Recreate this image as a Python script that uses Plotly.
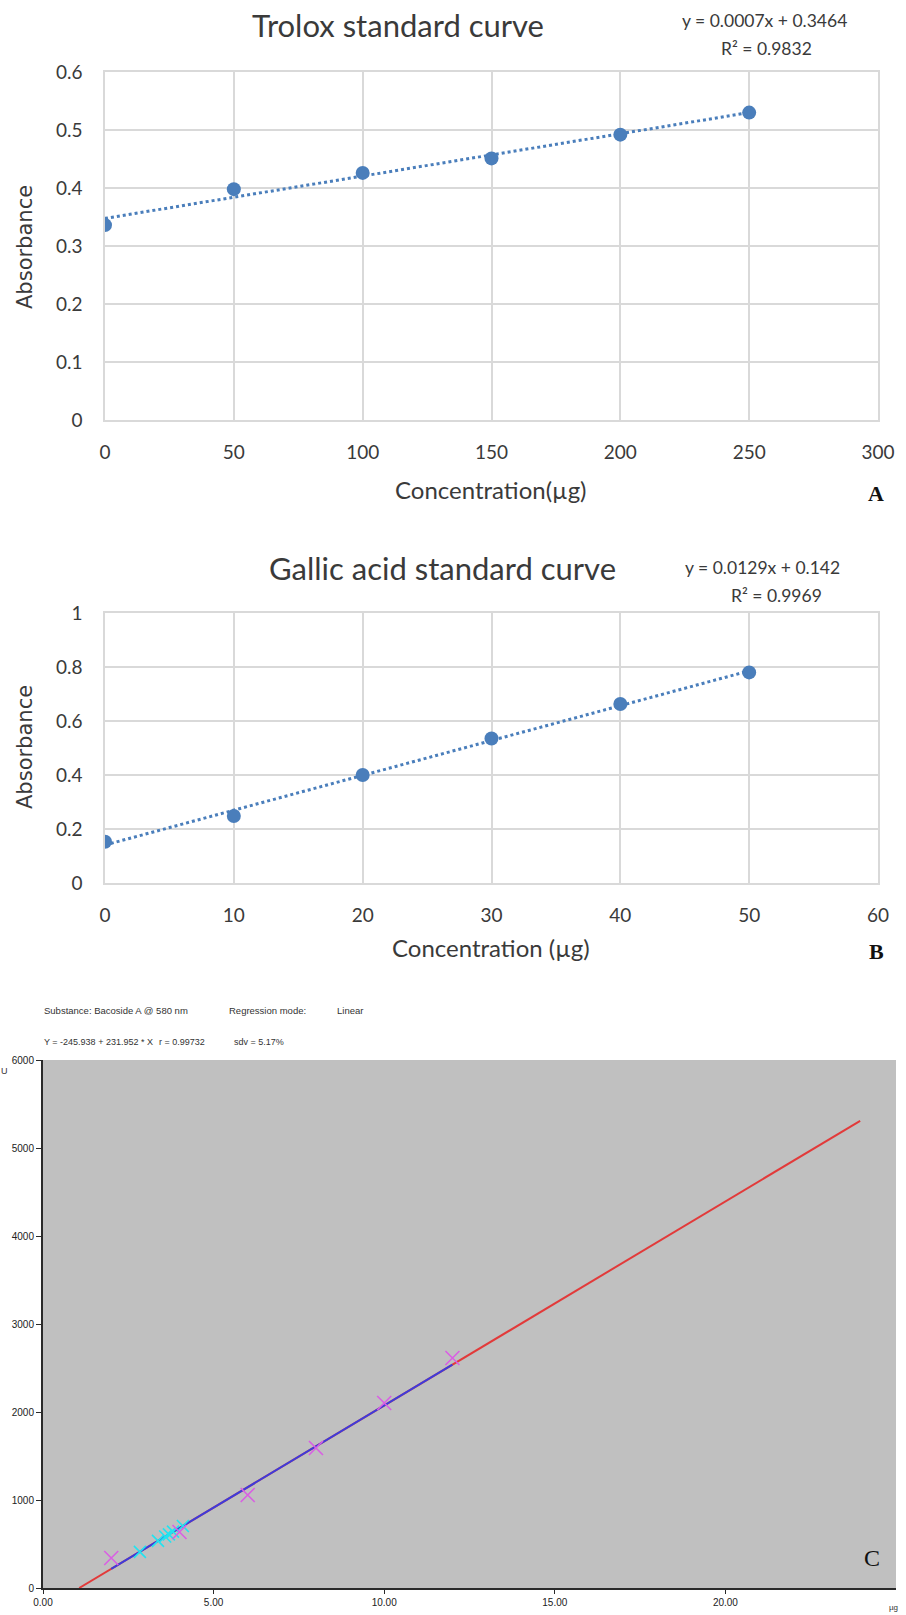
import numpy as np
import plotly.graph_objects as go

# ---------------- data ----------------
# Panel A: Trolox
trolox_conc = [0, 50, 100, 150, 200, 250]
trolox_abs = [0.336, 0.398, 0.426, 0.451, 0.492, 0.530]
trolox_eq = "y = 0.0007x + 0.3464"
trolox_r2 = "R² = 0.9832"

# Panel B: Gallic acid
gallic_conc = [0, 10, 20, 30, 40, 50]
gallic_abs = [0.153, 0.248, 0.400, 0.535, 0.663, 0.780]
gallic_eq = "y = 0.0129x + 0.142"
gallic_r2 = "R² = 0.9969"

# Panel C: Bacoside A calibration
bac_std_x = [2, 4, 6, 8, 10, 12]
bac_std_y = [341, 636, 1057, 1591, 2102, 2614]
bac_smp_x = [2.84, 3.37, 3.58, 3.69, 3.81, 4.10]
bac_smp_y = [410, 535, 585, 610, 640, 705]
bac_intercept = -245.938
bac_slope = 231.952
bac_line_end = 23.95

A_xticks = [0, 50, 100, 150, 200, 250, 300]
A_yticks = [0, 0.1, 0.2, 0.3, 0.4, 0.5, 0.6]
B_xticks = [0, 10, 20, 30, 40, 50, 60]
B_yticks = [0, 0.2, 0.4, 0.6, 0.8, 1]
C_xticks = [0, 5, 10, 15, 20]
C_yticks = [0, 1000, 2000, 3000, 4000, 5000, 6000]

W, H = 906, 1615
BLUE = "#4a7ebb"
GRID = "#d9d9d9"
TXT = "#3a3a3a"
FONT = "Lato, Open Sans, sans-serif"
MAGENTA = "#d95fe3"
CYAN = "#22e3ef"


def px(x):
    return x / W


def py(y):
    return 1 - y / H


fig = go.Figure()

# ---- Panel A ----
sA, iA = np.polyfit(trolox_conc, trolox_abs, 1)
xa = [min(trolox_conc), max(trolox_conc)]
fig.add_trace(go.Scatter(x=xa, y=[iA + sA * v for v in xa], mode="lines",
                         line=dict(color=BLUE, width=3, dash="dot"),
                         xaxis="x", yaxis="y", showlegend=False))
fig.add_trace(go.Scatter(x=trolox_conc, y=trolox_abs, mode="markers",
                         marker=dict(color=BLUE, size=14),
                         xaxis="x", yaxis="y", showlegend=False))

# ---- Panel B ----
sB, iB = np.polyfit(gallic_conc, gallic_abs, 1)
xb = [min(gallic_conc), max(gallic_conc)]
fig.add_trace(go.Scatter(x=xb, y=[iB + sB * v for v in xb], mode="lines",
                         line=dict(color=BLUE, width=3, dash="dot"),
                         xaxis="x2", yaxis="y2", showlegend=False))
fig.add_trace(go.Scatter(x=gallic_conc, y=gallic_abs, mode="markers",
                         marker=dict(color=BLUE, size=14),
                         xaxis="x2", yaxis="y2", showlegend=False))

# ---- Panel C ----
x_zero = -bac_intercept / bac_slope
xr = [x_zero, bac_line_end]
fig.add_trace(go.Scatter(x=xr, y=[bac_intercept + bac_slope * v for v in xr],
                         mode="lines", line=dict(color="#e23a3a", width=2),
                         xaxis="x3", yaxis="y3", showlegend=False))
xbl = [min(bac_std_x), max(bac_std_x)]
fig.add_trace(go.Scatter(x=xbl, y=[bac_intercept + bac_slope * v for v in xbl],
                         mode="lines", line=dict(color="#3c3cdc", width=2),
                         xaxis="x3", yaxis="y3", showlegend=False))
fig.add_trace(go.Scatter(x=bac_smp_x, y=bac_smp_y, mode="markers",
                         marker=dict(symbol="x-thin-open", size=12, color=CYAN,
                                     line=dict(color=CYAN, width=1.6)),
                         xaxis="x3", yaxis="y3", showlegend=False))
fig.add_trace(go.Scatter(x=bac_std_x, y=bac_std_y, mode="markers",
                         marker=dict(symbol="x-thin-open", size=14, color=MAGENTA,
                                     line=dict(color=MAGENTA, width=1.6)),
                         xaxis="x3", yaxis="y3", showlegend=False))

tickfontA = dict(family=FONT, size=19, color=TXT)
common_excel = dict(showgrid=True, gridcolor=GRID, gridwidth=1.5, zeroline=False,
                    showline=True, linecolor=GRID, linewidth=1.5, mirror=True,
                    ticks="outside", tickcolor="rgba(0,0,0,0)", tickfont=tickfontA,
                    fixedrange=True, automargin=False)
CF = "Liberation Sans, Arial, sans-serif"
common_c = dict(showgrid=False, zeroline=False, showline=True,
                linecolor="#2a2a2a", linewidth=2, ticks="outside",
                tickcolor="#2a2a2a", automargin=False, fixedrange=True,
                tickfont=dict(family=CF, size=10, color="#222"))

fig.update_layout(
    width=W, height=H, margin=dict(l=0, r=0, t=0, b=0, autoexpand=False),
    paper_bgcolor="white", plot_bgcolor="white", showlegend=False,
    xaxis=dict(domain=[px(105), px(878)], range=[0, 300], tickvals=A_xticks,
               ticklen=14, anchor="y", **common_excel),
    yaxis=dict(domain=[py(420), py(72)], range=[0, 0.6], tickvals=A_yticks,
               ticklen=17, anchor="x", **common_excel),
    xaxis2=dict(domain=[px(105), px(878)], range=[0, 60], tickvals=B_xticks,
                ticklen=14, anchor="y2", **common_excel),
    yaxis2=dict(domain=[py(883), py(613)], range=[0, 1], tickvals=B_yticks,
                ticklen=17, anchor="x2", **common_excel),
    xaxis3=dict(domain=[px(43), px(896)], range=[0, 25], tickvals=C_xticks,
                tickformat=".2f", ticklen=4, anchor="y3", **common_c),
    yaxis3=dict(domain=[py(1588), py(1060)], range=[0, 6000], tickvals=C_yticks,
                ticklen=5, anchor="x3", **common_c),
)

fig.add_shape(type="rect", xref="x3 domain", yref="y3 domain", x0=0, x1=1, y0=0, y1=1,
              fillcolor="#c0c0c0", line=dict(width=0), layer="below")


def ann(text, x, y, size, family=FONT, color=TXT, xanchor="center", angle=0, bold=False):
    if bold:
        text = "<b>" + text + "</b>"
    fig.add_annotation(text=text, x=px(x), y=py(y), xref="paper", yref="paper",
                       showarrow=False, xanchor=xanchor, yanchor="middle",
                       textangle=angle, font=dict(family=family, size=size, color=color))


# Panel A text
ann("Trolox standard curve", 398, 25, 31)
ann(trolox_eq, 764, 21, 17.5)
ann(trolox_r2, 766, 49, 17.5)
ann("Absorbance", 25, 247, 21, family="DejaVu Sans", angle=-90)
ann("Concentration(µg)", 491, 490, 24)
ann("A", 876, 493, 22, family="Liberation Serif, serif", color="#111", bold=True)

# Panel B text
ann("Gallic acid standard curve", 442, 568, 31)
ann(gallic_eq, 762, 567, 17.5)
ann(gallic_r2, 776, 595, 17.5)
ann("Absorbance", 25, 747, 21, family="DejaVu Sans", angle=-90)
ann("Concentration (µg)", 491, 947, 24)
ann("B", 876, 952, 22, family="Liberation Serif, serif", color="#111", bold=True)

# Panel C text
ann("Substance: Bacoside A @ 580 nm", 42, 1010, 9.5, family=CF, color="#333", xanchor="left")
ann("Regression mode:", 227, 1010, 9.5, family=CF, color="#333", xanchor="left")
ann("Linear", 335, 1010, 9.5, family=CF, color="#333", xanchor="left")
ann("Y = -245.938 + 231.952 * X", 42, 1042, 9, family=CF, color="#333", xanchor="left")
ann("r = 0.99732", 157, 1042, 9, family=CF, color="#333", xanchor="left")
ann("sdv = 5.17%", 232, 1042, 9, family=CF, color="#333", xanchor="left")
ann("U", 4, 1071, 9, family=CF, color="#333")
ann("µg", 893, 1607, 8, family=CF, color="#333")
ann("C", 872, 1558, 24, family="Liberation Serif, serif", color="#111")

fig.write_html("out.html", config={"displayModeBar": False},
               post_script="document.body.style.margin='0px';document.body.style.overflow='hidden';")
